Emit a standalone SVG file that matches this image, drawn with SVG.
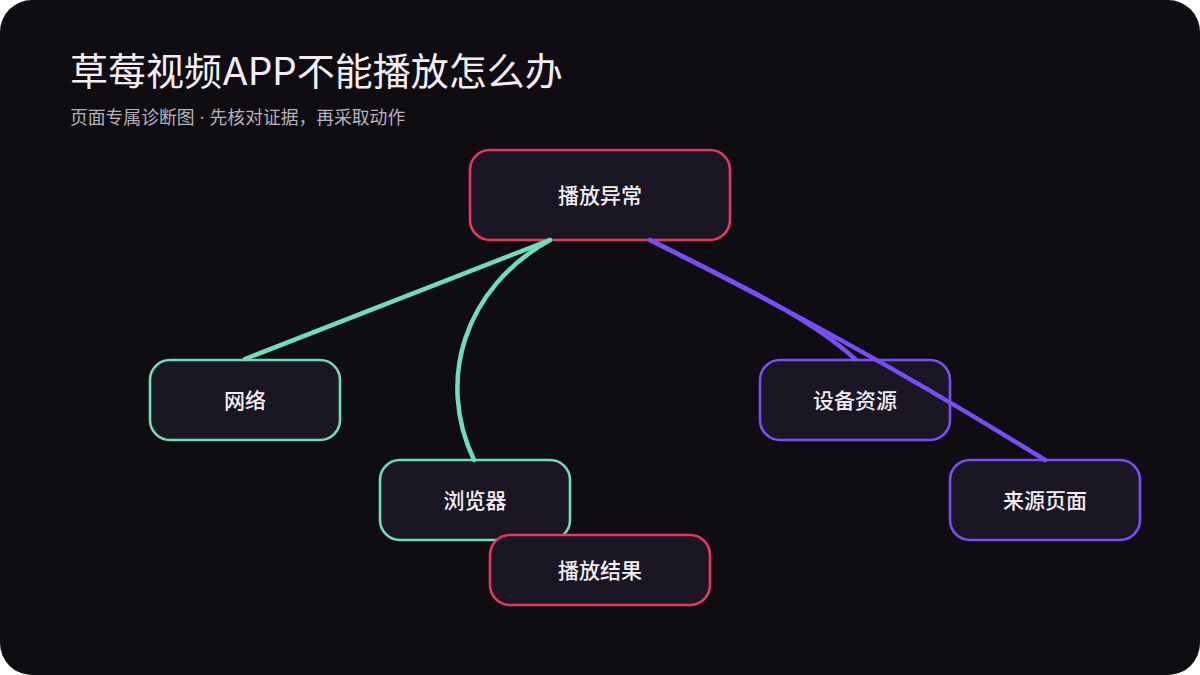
<svg xmlns="http://www.w3.org/2000/svg" width="1200" height="675" viewBox="0 0 1200 675">
<style>
.node rect{fill:#1b1623;stroke-width:2.6}
.red rect{stroke:#e8385a}
.green rect{stroke:#6fdcbc}
.purple rect{stroke:#7b4dfa}
.node text{font-family:"Inter","Noto Sans CJK SC",sans-serif;font-size:21px;font-weight:500;fill:#f4edf4;text-anchor:middle;dominant-baseline:central}
.conn path{fill:none;stroke-width:4.5;stroke-linecap:round}
.g{stroke:#6fdcbc}
.p{stroke:#7b4dfa}
</style>
<rect width="1200" height="675" fill="#ffffff"/>
<rect width="1200" height="675" rx="32" fill="#0f0d12"/>
<text x="70" y="85" font-family="Inter,'Noto Sans CJK SC',sans-serif" font-size="38" fill="#f4edf4">草莓视频APP不能播放怎么办</text>
<text x="70" y="124" font-family="Inter,'Noto Sans CJK SC',sans-serif" font-size="17.8" fill="#b8b1bd">页面专属诊断图 · 先核对证据，再采取动作</text>
<g id="n-root" class="node red"><rect x="470" y="150" width="260" height="90" rx="20"/><text x="600" y="195">播放异常</text></g>
<g id="n-net" class="node green"><rect x="150" y="360" width="190" height="80" rx="20"/><text x="245" y="400">网络</text></g>
<g id="n-browser" class="node green"><rect x="380" y="460" width="190" height="80" rx="20"/><text x="475" y="500">浏览器</text></g>
<g id="n-result" class="node red"><rect x="490" y="535" width="220" height="70" rx="20"/><text x="600" y="570">播放结果</text></g>
<g id="n-device" class="node purple"><rect x="760" y="360" width="190" height="80" rx="20"/><text x="855" y="400">设备资源</text></g>
<g id="n-source" class="node purple"><rect x="950" y="460" width="190" height="80" rx="20"/><text x="1045" y="500">来源页面</text></g>
<g id="connectors" class="conn">
<path class="g" d="M550,240 L245,359"/>
<path class="g" d="M550,240 C464,288 436,380 474,460"/>
<path class="p" d="M650,240 C740,285 810,318 855,359"/>
<path class="p" d="M650,240 C780,305 900,370 1045,460"/>
</g>
</svg>
